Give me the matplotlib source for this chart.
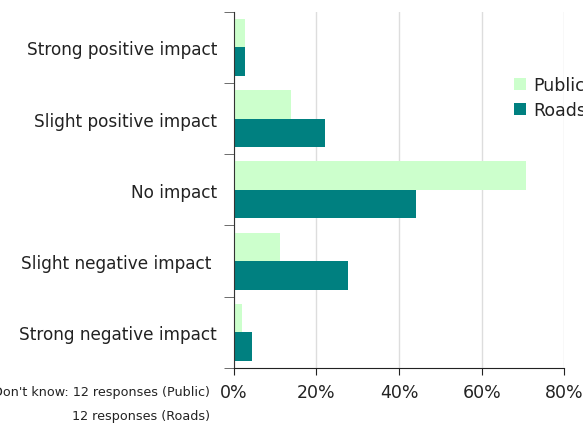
import numpy as np
import matplotlib.pyplot as plt
from matplotlib.ticker import FixedLocator, PercentFormatter

# categories, top to bottom
categories = ['Strong positive impact', 'Slight positive impact', 'No impact',
              'Slight negative impact ', 'Strong negative impact']
public = [2.7, 13.8, 70.7, 11.1, 2.1]
roads = [2.7, 22.0, 44.1, 27.6, 4.3]

plt.rcParams['font.family'] = ['DejaVu Sans']

fig = plt.figure(figsize=(5.83, 4.27), dpi=100)
ax = fig.add_axes([0.401, 0.136, 0.567, 0.834])

y = np.arange(len(categories))
h = 0.4
ax.barh(y - h / 2, public, height=h, color='#CCFFCC', label='Public')
ax.barh(y + h / 2, roads, height=h, color='#008080', label='Roads')

ax.set_ylim(len(categories) - 0.5, -0.5)
ax.set_xlim(0, 80)
ax.set_xticks([0, 20, 40, 60, 80])
ax.xaxis.set_major_formatter(PercentFormatter(decimals=0))
ax.tick_params(axis='x', labelsize=12.5, length=5, color='#222222', pad=6,
               labelcolor='#222222')

ax.set_yticks(y)
ax.set_yticklabels(categories, fontsize=12.2, color='#222222')
ax.tick_params(axis='y', which='major', length=0, pad=12)
ax.yaxis.set_minor_locator(FixedLocator(np.arange(-0.5, len(categories), 1)))
ax.tick_params(axis='y', which='minor', length=7, color='#555555')

ax.grid(axis='x', color='#dddddd', linewidth=1)
ax.set_axisbelow(True)
for s in ['top', 'right']:
    ax.spines[s].set_visible(False)
ax.spines['left'].set_color('#333333')
ax.spines['bottom'].set_color('#222222')

fig.legend(loc='upper left', bbox_to_anchor=(0.87, 0.835), frameon=False,
           fontsize=12.5, handlelength=0.7, handleheight=0.7, handletextpad=0.4,
           labelspacing=0.4, borderaxespad=0, labelcolor='#222222')

fig.text(0.36, 0.08, "Don't know: 12 responses (Public)", ha='right', va='center',
         fontsize=9.2, color='#222222')
fig.text(0.36, 0.025, "12 responses (Roads)", ha='right', va='center',
         fontsize=9.2, color='#222222')

fig.savefig('out.png', dpi=100)
